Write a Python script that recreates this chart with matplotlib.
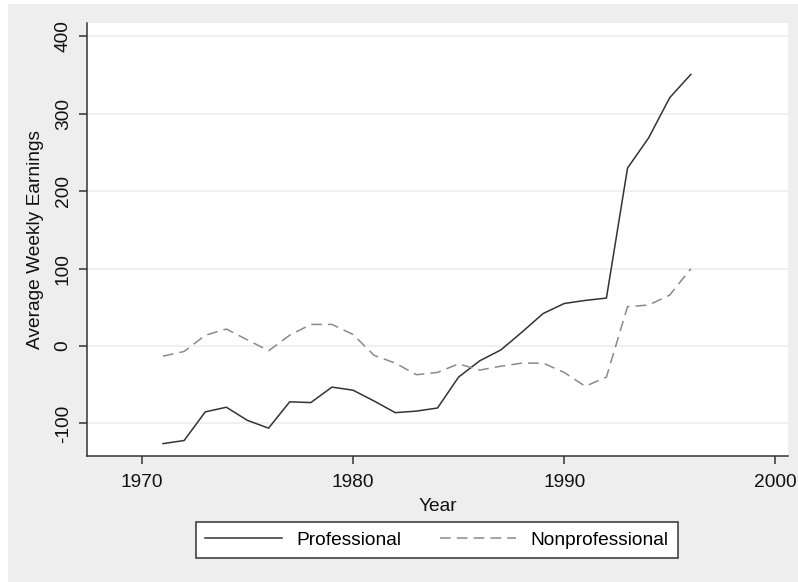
import matplotlib.pyplot as plt
from matplotlib.patches import Rectangle

# data
years = list(range(1971, 1997))
professional = [-126, -122, -85, -79, -96, -106, -72, -73, -53, -57,
                -71, -86, -84, -80, -40, -19, -5, 18, 42, 55,
                59, 62, 230, 269, 321, 351]
nonprofessional = [-13, -7, 14, 22, 8, -6, 14, 28, 28, 15,
                   -12, -22, -37, -34, -23, -31, -26, -22, -22, -34,
                   -52, -40, 51, 53, 66, 100]
yticks = [-100, 0, 100, 200, 300, 400]
xticks = [1970, 1980, 1990, 2000]

plt.rcParams['font.family'] = ['Liberation Sans', 'DejaVu Sans']
plt.rcParams['axes.unicode_minus'] = False
bg = '#eeeeee'
fs = 13.8

fig = plt.figure(figsize=(7.98, 5.82), dpi=100)
fig.patch.set_facecolor('white')
# stata-style gray outer region (small white strip on the left and top)
fig.add_artist(Rectangle((8 / 798, 0), 1, 1 - 4 / 582, transform=fig.transFigure,
                         facecolor=bg, edgecolor='none', zorder=-10))

ax = fig.add_axes([87 / 798, 1 - 456 / 582, (788 - 87) / 798, (456 - 23.3) / 582])
ax.set_facecolor('white')

ax.plot(years, professional, color='#333333', lw=1.1, ls='-', label='Professional')
ax.plot(years, nonprofessional, color='#8a8a8a', lw=1.1, dashes=(7, 4), label='Nonprofessional')

ax.set_xlim(1967.4, 2000.6)
ax.set_ylim(-142, 417)
ax.set_xticks(xticks)
ax.set_yticks(yticks)
ax.grid(axis='y', color='#eeeeee', lw=1.2)
ax.set_axisbelow(True)

for s in ['top', 'right']:
    ax.spines[s].set_visible(False)
for s in ['left', 'bottom']:
    ax.spines[s].set_color('#333333')
    ax.spines[s].set_linewidth(1.1)

ax.tick_params(axis='both', length=6, width=1.1, color='#333333', labelsize=fs,
               labelcolor='#111111')
ax.tick_params(axis='x', pad=7)
ax.tick_params(axis='y', pad=5)
for lab in ax.get_yticklabels():
    lab.set_rotation(90)
    lab.set_va('center')

ax.set_xlabel('Year', fontsize=fs, color='#111111', labelpad=5)
ax.set_ylabel('Average Weekly Earnings', fontsize=fs, color='#111111', labelpad=8)

leg = ax.legend(loc='upper center', bbox_to_anchor=(437 / 798, 1 - 521.7 / 582),
                bbox_transform=fig.transFigure, ncol=2, fontsize=fs,
                frameon=True, fancybox=False, handlelength=4.0, handletextpad=0.75,
                columnspacing=2.0, borderpad=0.5, borderaxespad=0)
leg.get_frame().set_edgecolor('#333333')
leg.get_frame().set_linewidth(1.1)
leg.get_frame().set_facecolor('white')
leg.get_frame().set_alpha(1)

plt.savefig('out.png', dpi=100, facecolor=fig.get_facecolor())
